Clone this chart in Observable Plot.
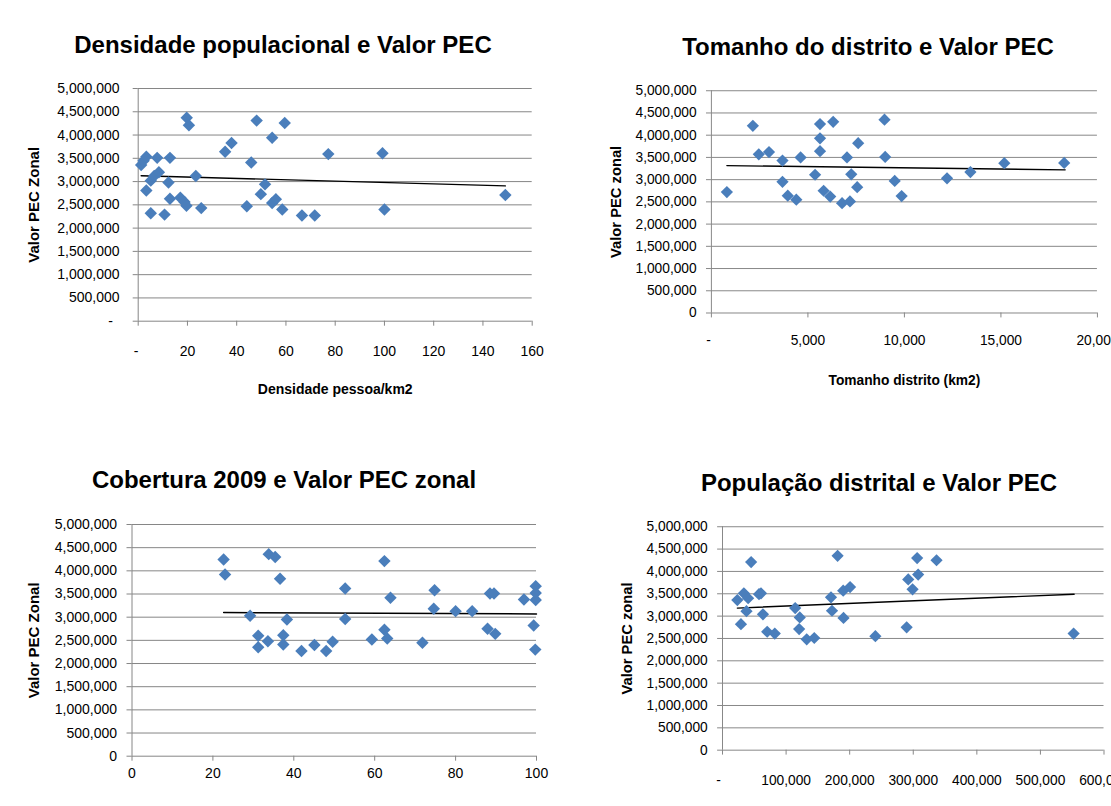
<!DOCTYPE html>
<html><head><meta charset="utf-8">
<script src="https://cdn.jsdelivr.net/npm/d3@7"></script>
<script src="https://cdn.jsdelivr.net/npm/@observablehq/plot@0.6"></script>
<style>
html,body{margin:0;padding:0;background:#fff;overflow:hidden;width:1111px;height:806px}
#root{position:relative;width:1111px;height:806px;overflow:hidden;background:#fff}
.title{position:absolute;font-family:"Liberation Sans",Arial,sans-serif;font-weight:bold;font-size:24px;white-space:nowrap;text-align:center;line-height:1;color:#000;width:600px}
.panel{position:absolute}
</style></head><body><div id="root"></div>
<script>
// ---- shared ----
const yTicks = [0, 500000, 1000000, 1500000, 2000000, 2500000, 3000000, 3500000, 4000000, 4500000, 5000000];
const titles = ["Densidade populacional e Valor PEC", "Tomanho do distrito e Valor PEC", "Cobertura 2009 e Valor PEC zonal", "População distrital e Valor PEC"];
const yTitles = ["Valor PEC Zonal", "Valor PEC zonal", "Valor PEC Zonal", "Valor PEC zonal"];
const xTitles = ["Densidade pessoa/km2", "Tomanho distrito (km2)", "", ""];

// ---- panel 1: densidade ----
const densX = [1.2, 2.2, 3.3, 3.3, 5.1, 5.1, 6.5, 7.7, 8.4, 10.7, 12.3, 12.9, 12.9, 17.1, 18.8, 19.6, 19.7, 20.6, 23.4, 25.6, 35.3, 37.9, 44.1, 45.9, 48.1, 49.8, 51.5, 54.4, 54.4, 55.9, 58.5, 59.5, 66.5, 71.7, 77.2, 99.2, 100.0, 149.1];
const densY = [3355000, 3450000, 3535000, 2810000, 2320000, 3020000, 3120000, 3510000, 3200000, 2290000, 2980000, 3510000, 2630000, 2655000, 2560000, 2480000, 4370000, 4210000, 3120000, 2430000, 3640000, 3830000, 2470000, 3410000, 4310000, 2730000, 2940000, 3940000, 2540000, 2620000, 2400000, 4260000, 2270000, 2270000, 3590000, 3610000, 2400000, 2710000];
const densTrendX = [1.2, 149.1];
const densTrendY = [3125000, 2908000];
const densTicks = [0, 20, 40, 60, 80, 100, 120, 140, 160];

// ---- panel 2: tamanho ----
const sizeX = [801, 2148, 2455, 2984, 3683, 3683, 3956, 4399, 4621, 5371, 5627, 5627, 5627, 5814, 6155, 6309, 6769, 7025, 7178, 7246, 7553, 7604, 8968, 9003, 9497, 9855, 12208, 13419, 15175, 18278];
const sizeY = [2720000, 4210000, 3570000, 3620000, 3430000, 2950000, 2640000, 2550000, 3500000, 3110000, 4250000, 3930000, 3640000, 2750000, 2620000, 4300000, 2470000, 3500000, 2510000, 3120000, 2830000, 3820000, 4350000, 3510000, 2970000, 2630000, 3030000, 3170000, 3370000, 3375000];
const sizeTrendX = [801, 18330];
const sizeTrendY = [3316000, 3220000];
const sizeTicks = [0, 5000, 10000, 15000, 20000];

// ---- panel 3: cobertura ----
const covX = [22.65, 23.0, 29.2, 31.2, 31.2, 33.6, 33.8, 35.4, 36.6, 37.4, 37.4, 38.3, 41.9, 45.1, 48.0, 49.6, 52.7, 52.7, 59.3, 62.4, 62.4, 63.1, 63.9, 71.8, 74.8, 74.6, 80.0, 84.1, 87.9, 88.5, 89.5, 89.8, 96.9, 99.3, 99.8, 99.8, 99.8, 99.7];
const covY = [4245000, 3920000, 3030000, 2600000, 2350000, 2480000, 4360000, 4300000, 3830000, 2610000, 2410000, 2950000, 2270000, 2400000, 2270000, 2470000, 3620000, 2960000, 2520000, 4210000, 2730000, 2540000, 3420000, 2450000, 3580000, 3180000, 3130000, 3130000, 2750000, 3510000, 3510000, 2640000, 3380000, 2820000, 3670000, 3520000, 3370000, 2300000];
const covTrendX = [22.65, 100];
const covTrendY = [3100000, 3070000];
const covTicks = [0, 20, 40, 60, 80, 100];

// ---- panel 4: população ----
const popX = [23300, 29000, 33600, 37700, 40300, 45000, 57400, 60500, 63600, 70300, 82200, 114300, 120500, 121500, 132400, 144300, 170600, 172200, 181000, 189800, 190300, 200600, 240400, 289600, 292100, 298900, 306100, 307700, 336600, 552200];
const popY = [3360000, 2820000, 3510000, 3110000, 3400000, 4210000, 3490000, 3510000, 3040000, 2650000, 2610000, 3180000, 2710000, 2970000, 2480000, 2510000, 3420000, 3120000, 4350000, 3570000, 2960000, 3650000, 2550000, 2750000, 3820000, 3600000, 4300000, 3930000, 4250000, 2610000];
const popTrendX = [23300, 553000];
const popTrendY = [3180000, 3490000];
const popTicks = [0, 100000, 200000, 300000, 400000, 500000, 600000];

// ---- drawing ----
const GRID = "#868686";
const BLUE = "#4a7ebb";
const TICKFONT = "'Liberation Sans', Arial, sans-serif";
const fmt = d3.format(",");
const root = document.getElementById("root");

function addTitle(text, cx, cy, fs) {
  const d = document.createElement("div");
  d.className = "title";
  d.textContent = text;
  d.style.fontSize = fs + "px";
  d.style.left = (cx - 300) + "px";
  d.style.top = (cy - 0.49 * fs) + "px";
  root.appendChild(d);
}

function panel(c) {
  const pts = c.xs.map((x, i) => ({x, y: c.ys[i]}));
  const trend = c.tx.map((x, i) => ({x, y: c.ty[i]}));
  const marks = [
    Plot.gridY(yTicks, {stroke: GRID, strokeOpacity: 1, strokeWidth: 1}),
    Plot.ruleX([c.domain[0]], {y1: 0, y2: 5000000, stroke: GRID}),
    Plot.axisY(yTicks, {tickSize: 5, tickPadding: c.yPad, stroke: GRID, fill: "#000", fontSize: 14,
      tickFormat: d => d === 0 ? (c.yDash ? "" : "0") : fmt(d)}),
    Plot.axisX(c.ticks, {tickSize: 5, tickPadding: c.xPad, stroke: GRID, fill: "#000", fontSize: 14,
      tickFormat: d => d === 0 ? (c.xDash ? "" : "0") : fmt(d)}),
    Plot.line(trend, {x: "x", y: "y", stroke: "#000", strokeWidth: 1.4}),
    Plot.dot(pts, {x: "x", y: "y", symbol: "diamond2", r: 5.6, fill: BLUE, stroke: "none"}),
    Plot.text([c.yTitle], {text: d => d, frameAnchor: "left", dx: c.yTitleDx, rotate: -90, textAnchor: "middle", lineAnchor: "middle",
      fontWeight: "bold", fontSize: 15, fill: "#000"})
  ];
  if (c.yDash) marks.push(Plot.axisY([0], {tickSize: 0, tickPadding: c.yPad + 5 + c.yDashDx, fill: "#000", fontSize: 14, tickFormat: () => "-"}));
  if (c.xDash) marks.push(Plot.axisX([0], {tickSize: 0, tickPadding: c.xPad + 5, dx: c.xDashDx, fill: "#000", fontSize: 14, tickFormat: () => "-"}));
  if (c.xTitle) marks.push(Plot.text([c.xTitle], {text: d => d, frameAnchor: "bottom", dy: c.xTitleDy, textAnchor: "middle", lineAnchor: "middle",
      fontWeight: "bold", fontSize: 14, fill: "#000"}));
  const svg = Plot.plot({
    width: c.w, height: c.h,
    marginLeft: c.mL, marginRight: c.mR, marginTop: c.mT, marginBottom: c.mB,
    x: {domain: c.domain, label: null},
    y: {domain: [0, 5000000], label: null},
    style: {fontFamily: TICKFONT, fontSize: "14px", color: "#000", background: "transparent", overflow: "visible"},
    marks
  });
  const wrap = document.createElement("div");
  wrap.className = "panel";
  wrap.style.left = c.left + "px";
  wrap.style.top = c.top + "px";
  wrap.appendChild(svg);
  root.appendChild(wrap);
}

panel({xs: densX, ys: densY, tx: densTrendX, ty: densTrendY, ticks: densTicks, domain: [0, 160],
  left: 0, top: 70, w: 560, h: 340, mL: 137.7, mR: 28.3, mT: 18, mB: 89.3,
  yPad: 13.7, xPad: 20, yDash: true, yDashDx: 6.5, xDash: true, xDashDx: -2,
  yTitle: yTitles[0], yTitleDx: -104.5, xTitle: xTitles[0], xTitleDy: 68});
panel({xs: sizeX, ys: sizeY, tx: sizeTrendX, ty: sizeTrendY, ticks: sizeTicks, domain: [0, 20000],
  left: 590, top: 70, w: 530, h: 340, mL: 123, mR: 14.3, mT: 20.6, mB: 93.3,
  yPad: 10, xPad: 17.5, yDash: false, xDash: true, xDashDx: -3,
  yTitle: yTitles[1], yTitleDx: -96.5, xTitle: xTitles[1], xTitleDy: 68.3});
panel({xs: covX, ys: covY, tx: covTrendX, ty: covTrendY, ticks: covTicks, domain: [0, 100],
  left: 0, top: 500, w: 560, h: 306, mL: 131.5, mR: 24, mT: 24, mB: 50.3,
  yPad: 10, xPad: 7, yDash: false, xDash: false,
  yTitle: yTitles[2], yTitleDx: -97.5, xTitle: xTitles[2], xTitleDy: 0});
panel({xs: popX, ys: popY, tx: popTrendX, ty: popTrendY, ticks: popTicks, domain: [0, 600000],
  left: 590, top: 500, w: 530, h: 306, mL: 134.3, mR: 7.6, mT: 26.7, mB: 52,
  yPad: 10, xPad: 20, yDash: false, xDash: true, xDashDx: -4,
  yTitle: yTitles[3], yTitleDx: -96.6, xTitle: xTitles[3], xTitleDy: 0});

addTitle(titles[0], 283, 45, 24);
addTitle(titles[1], 868, 47, 24);
addTitle(titles[2], 284, 480, 24);
addTitle(titles[3], 879, 483, 24);
</script>
</body></html>
